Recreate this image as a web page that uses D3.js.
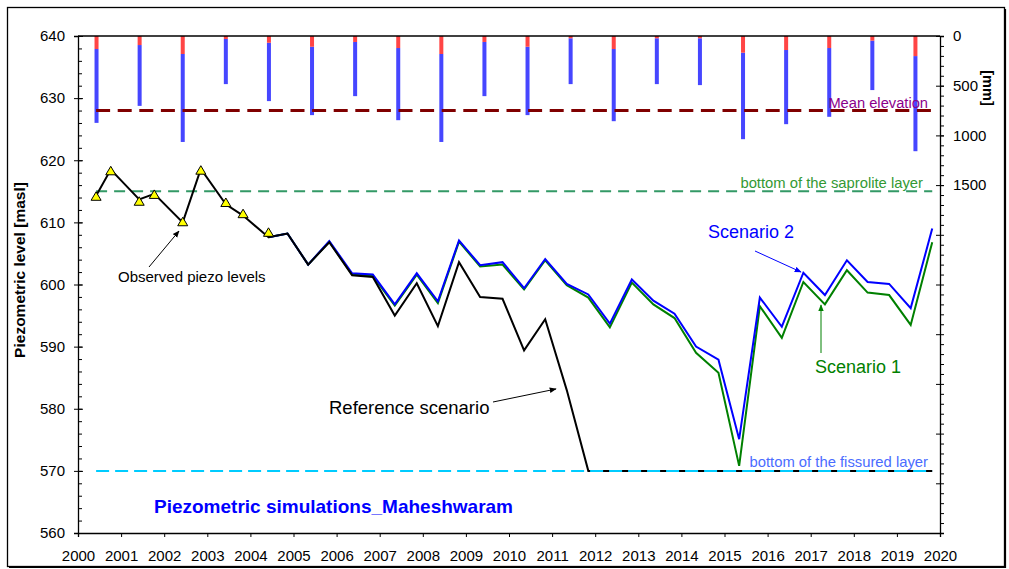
<!DOCTYPE html>
<html><head><meta charset="utf-8">
<script src="https://cdn.jsdelivr.net/npm/d3@7"></script>
<style>body{margin:0;background:#fff;font-family:"Liberation Sans",Arial,sans-serif}</style>
</head><body>
<svg id="c" width="1009" height="569"></svg>
<script>
// ---- data ----
const rainYears = [2000,2001,2002,2003,2004,2005,2006,2007,2008,2009,2010,2011,2012,2013,2014,2015,2016,2017,2018,2019];
const rainTotal = [874,703,1066,484,655,796,605,847,1066,605,796,484,857,484,494,1038,887,813,544,1159];
const rainRed   = [131,91,181,30,68,108,60,121,181,60,108,23,131,23,23,168,141,121,47,202];

const obsT = [2000.42,2000.76,2001.42,2001.77,2002.43,2002.85,2003.43,2003.83,2004.42];
const obsV = [614.2,618.3,613.4,614.5,610.1,618.4,613.2,611.4,608.4];

const refT = [2000.42,2000.76,2001.42,2001.77,2002.43,2002.85,2003.43,2003.83,2004.42,2004.86,2005.34,2005.83,2006.36,2006.84,2007.35,2007.86,2008.35,2008.84,2009.33,2009.85,2010.35,2010.84,2011.34,2011.84,2012.34,2012.85,2013.35,2013.84,2014.34,2014.86,2015.34,2015.82,2016.33,2016.83,2017.33,2017.84,2018.32,2018.82,2019.32,2019.82];
const refV = [614.3,618.5,613.7,614.6,610.0,618.6,612.9,611.1,607.6,608.2,603.2,606.8,601.5,601.2,595.0,600.2,593.3,603.6,598.0,597.7,589.4,594.4,583.0,570,570,570,570,570,570,570,570,570,570,570,570,570,570,570,570,570];

const scenT = [2004.42,2004.86,2005.34,2005.83,2006.36,2006.84,2007.35,2007.86,2008.35,2008.84,2009.33,2009.85,2010.35,2010.84,2011.34,2011.84,2012.34,2012.85,2013.35,2013.84,2014.34,2014.86,2015.34,2015.82,2016.33,2016.83,2017.33,2017.84,2018.32,2018.82,2019.32,2019.82];
const scen2V = [607.6,608.2,603.2,607.0,601.8,601.6,596.8,601.8,597.3,607.1,603.1,603.6,599.4,604.1,600.1,598.4,593.7,600.8,597.4,595.3,590.0,587.9,575.1,597.9,593.2,601.9,598.3,603.9,600.4,600.1,596.2,609.0];
const scen1V = [607.6,608.2,603.2,606.9,601.6,601.4,596.6,601.6,597.0,606.9,602.9,603.2,599.2,603.9,599.9,597.9,593.1,600.3,596.8,594.6,589.0,585.8,570.8,596.5,591.4,600.4,596.8,602.3,598.7,598.3,593.5,606.8];

const refLines = [
  {name:"Mean elevation", value:628},
  {name:"bottom of the saprolite layer", value:615},
  {name:"bottom of the fissured layer", value:570}
];
const lineStart = 2000.42, lineEnd = 2019.82;
const xTicks = d3.range(2000, 2021, 1);
const yTicks = d3.range(560, 641, 10);
const yMinor = d3.range(560, 641, 2);
const rTicks = [0,500,1000,1500];
const rMajor = d3.range(0, 5001, 500);
const rMinor = d3.range(0, 5001, 100);
const barOffset = 0.43;

// ---- layout ----
const L = 78, R = 940, T = 36, B = 533;
const svg = d3.select("#c");
const x = d3.scaleLinear().domain([2000,2020]).range([L,R]);
const y = d3.scaleLinear().domain([560,640]).range([B,T]);
const yr = d3.scaleLinear().domain([0,5000]).range([T,B]);

// outer border
svg.append("rect").attr("x",7.5).attr("y",7.5).attr("width",997).attr("height",559)
  .attr("fill","#fff").attr("stroke","#000").attr("stroke-width",1.3);
svg.append("path").attr("d","M1005.5,9 V567.5 H9").attr("fill","none").attr("stroke","#000").attr("stroke-width",1.2);

const defs = svg.append("defs");
function arrow(id,color){
  defs.append("marker").attr("id",id).attr("viewBox","0 0 10 10").attr("refX",9).attr("refY",5)
    .attr("markerWidth",7).attr("markerHeight",7).attr("markerUnits","userSpaceOnUse").attr("orient","auto")
    .append("path").attr("d","M0,1 L10,5 L0,9 Z").attr("fill",color);
}
arrow("aK","#000"); arrow("aB","#0000ff"); arrow("aG","#008000");

// rain bars
const bw = 4;
svg.append("g").selectAll("rect").data(rainYears).join("rect")
  .attr("x",(d)=>x(d+barOffset)-bw/2).attr("width",bw)
  .attr("y",(d,i)=>yr(rainRed[i])).attr("height",(d,i)=>yr(rainTotal[i])-yr(rainRed[i]))
  .attr("fill","#4646ff");
svg.append("g").selectAll("rect").data(rainYears).join("rect")
  .attr("x",(d)=>x(d+barOffset)-bw/2).attr("width",bw)
  .attr("y",yr(0)).attr("height",(d,i)=>yr(rainRed[i])-yr(0))
  .attr("fill","#ff4545");

// reference horizontal lines
const hl = svg.append("g");
hl.append("line").attr("x1",x(lineStart)).attr("x2",x(lineEnd)).attr("y1",y(refLines[0].value)).attr("y2",y(refLines[0].value))
  .attr("stroke","#800000").attr("stroke-width",3).attr("stroke-dasharray","14,7.6");
hl.append("line").attr("x1",x(lineStart)).attr("x2",x(lineEnd)).attr("y1",y(refLines[1].value)).attr("y2",y(refLines[1].value))
  .attr("stroke","#339966").attr("stroke-width",2).attr("stroke-dasharray","11,7");

// series lines
const line = d3.line().x(d=>x(d[0])).y(d=>y(d[1]));
svg.append("path").datum(scenT.map((t,i)=>[t,scen1V[i]])).attr("d",line)
  .attr("fill","none").attr("stroke","#008000").attr("stroke-width",2).attr("stroke-linejoin","miter");
svg.append("path").datum(scenT.map((t,i)=>[t,scen2V[i]])).attr("d",line)
  .attr("fill","none").attr("stroke","#0000ff").attr("stroke-width",2).attr("stroke-linejoin","miter");
svg.append("path").datum(refT.map((t,i)=>[t,refV[i]])).attr("d",line)
  .attr("fill","none").attr("stroke","#000").attr("stroke-width",2).attr("stroke-linejoin","miter");

// fissured line on top
svg.append("line").attr("x1",x(lineStart)).attr("x2",x(lineEnd)).attr("y1",y(refLines[2].value)).attr("y2",y(refLines[2].value))
  .attr("stroke","#00ccff").attr("stroke-width",2).attr("stroke-dasharray","13,6");

// observed markers
svg.append("g").selectAll("path").data(obsT).join("path")
  .attr("d",(d,i)=>{const cx=x(d), cy=y(obsV[i]); return `M${cx},${cy-4.5} L${cx+5},${cy+4} L${cx-5},${cy+4} Z`;})
  .attr("fill","#ffff00").attr("stroke","#000").attr("stroke-width",1);

// axes frame
const ax = svg.append("g").attr("stroke","#000").attr("stroke-width",1.3).attr("fill","none");
ax.append("line").attr("x1",L).attr("x2",R).attr("y1",T).attr("y2",T);
svg.append("g").attr("transform",`translate(${L},0)`)
  .call(d3.axisLeft(y).tickValues(yTicks).tickSize(4).tickPadding(9).tickFormat(d3.format("d")));
const gLm = svg.append("g").attr("transform",`translate(${L},0)`)
  .call(d3.axisRight(y).tickValues(yMinor).tickSize(4).tickFormat(""));
gLm.select(".domain").remove();
const gLM2 = svg.append("g").attr("transform",`translate(${L},0)`)
  .call(d3.axisRight(y).tickValues(yTicks).tickSize(5).tickFormat(""));
gLM2.select(".domain").remove();

svg.append("g").attr("transform",`translate(${R},0)`)
  .call(d3.axisRight(yr).tickValues(rTicks).tickSize(4).tickPadding(9).tickFormat(d3.format("d")));
const gRm = svg.append("g").attr("transform",`translate(${R},0)`)
  .call(d3.axisRight(yr).tickValues(rMinor).tickSize(4).tickFormat(""));
gRm.select(".domain").remove();
const gRM = svg.append("g").attr("transform",`translate(${R},0)`)
  .call(d3.axisLeft(yr).tickValues(rMajor).tickSize(4).tickFormat(""));
gRM.select(".domain").remove();

svg.append("g").attr("transform",`translate(0,${B})`)
  .call(d3.axisBottom(x).tickValues(xTicks).tickSize(4).tickPadding(13).tickFormat(d3.format("d")));

svg.selectAll(".domain").attr("stroke-width",1.3);
svg.selectAll(".tick line").attr("stroke-width",1);
svg.selectAll(".tick text").attr("font-family","'Liberation Sans',Arial,sans-serif").attr("font-size",15).attr("fill","#000");

// axis titles
svg.append("text").attr("transform","translate(25,270) rotate(-90)").attr("text-anchor","middle")
  .attr("font-size",15.5).attr("font-weight","bold").text("Piezometric level [masl]");
svg.append("text").attr("transform","translate(983,88) rotate(90)").attr("text-anchor","middle")
  .attr("font-size",14.5).attr("font-weight","bold").text("[mm]");

// annotations
svg.append("text").attr("x",928).attr("y",108).attr("text-anchor","end").attr("font-size",14.7).attr("fill","#8b008b").text("Mean elevation");
svg.append("text").attr("x",923).attr("y",188).attr("text-anchor","end").attr("font-size",14.8).attr("fill","#339933").text("bottom of the saprolite layer");
svg.append("text").attr("x",928).attr("y",467).attr("text-anchor","end").attr("font-size",14.8).attr("fill","#4a6cff").text("bottom of the fissured layer");

svg.append("text").attr("x",708).attr("y",238).attr("font-size",18).attr("fill","#0000ff").text("Scenario 2");
svg.append("line").attr("x1",755).attr("y1",251).attr("x2",801).attr("y2",272).attr("stroke","#0000ff").attr("stroke-width",1).attr("marker-end","url(#aB)");
svg.append("text").attr("x",815).attr("y",373).attr("font-size",18).attr("fill","#008000").text("Scenario 1");
svg.append("line").attr("x1",821).attr("y1",353).attr("x2",821).attr("y2",305).attr("stroke","#008000").attr("stroke-width",1).attr("marker-end","url(#aG)");

svg.append("text").attr("x",329).attr("y",414).attr("font-size",18.5).attr("fill","#000").text("Reference scenario");
svg.append("line").attr("x1",493).attr("y1",402).attr("x2",556).attr("y2",389).attr("stroke","#000").attr("stroke-width",1).attr("marker-end","url(#aK)");

svg.append("text").attr("x",118).attr("y",282).attr("font-size",15).attr("fill","#000").text("Observed piezo levels");
svg.append("line").attr("x1",149).attr("y1",267).attr("x2",179).attr("y2",231).attr("stroke","#000").attr("stroke-width",1).attr("marker-end","url(#aK)");

svg.append("text").attr("x",154).attr("y",513).attr("font-size",19).attr("font-weight","bold").attr("fill","#0000ff").text("Piezometric simulations_Maheshwaram");
</script>
</body></html>
